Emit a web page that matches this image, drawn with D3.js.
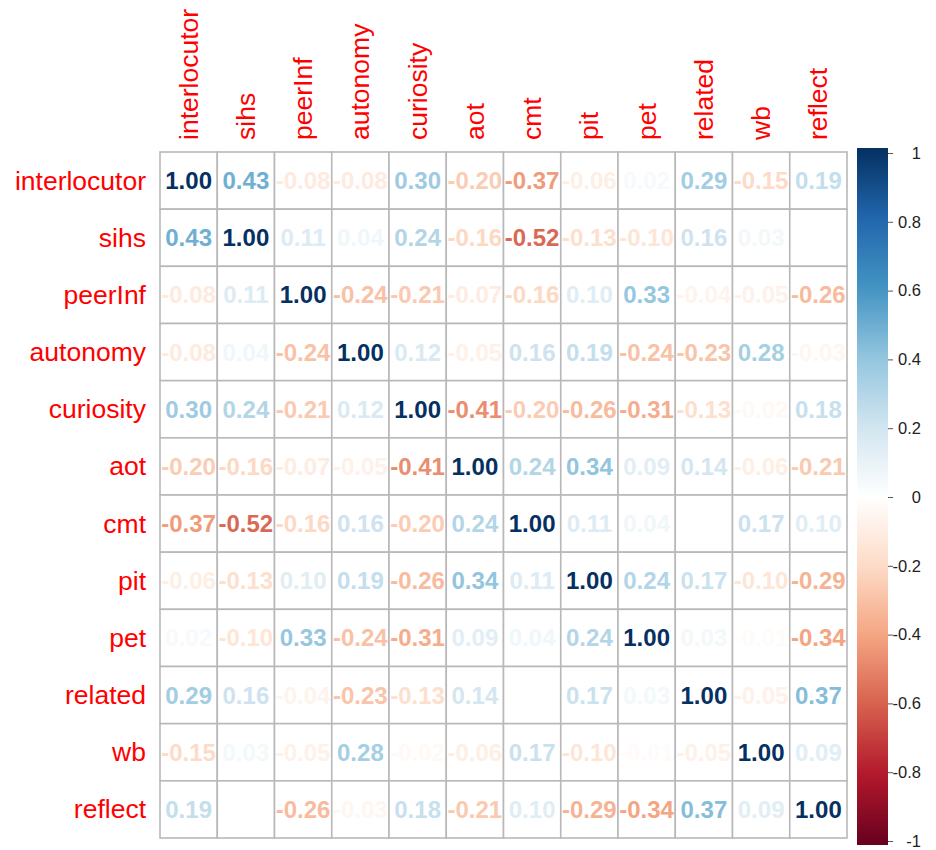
<!DOCTYPE html>
<html>
<head>
<meta charset="utf-8">
<script src="https://cdn.jsdelivr.net/npm/d3@7"></script>
<style>
  html, body { margin: 0; padding: 0; background: #fff; }
  svg { display: block; font-family: "Liberation Sans", Arial, Helvetica, sans-serif; }
</style>
</head>
<body>
<svg id="chart" width="936" height="850"></svg>
<script>
const variables = ["interlocutor","sihs","peerInf","autonomy","curiosity","aot","cmt","pit","pet","related","wb","reflect"];

const rowInterlocutor = [ 1.00, 0.43,-0.08,-0.08, 0.30,-0.20,-0.37,-0.06, 0.02, 0.29,-0.15, 0.19];
const rowSihs         = [ 0.43, 1.00, 0.11, 0.04, 0.24,-0.16,-0.52,-0.13,-0.10, 0.16, 0.03, 0.00];
const rowPeerInf      = [-0.08, 0.11, 1.00,-0.24,-0.21,-0.07,-0.16, 0.10, 0.33,-0.04,-0.05,-0.26];
const rowAutonomy     = [-0.08, 0.04,-0.24, 1.00, 0.12,-0.05, 0.16, 0.19,-0.24,-0.23, 0.28,-0.03];
const rowCuriosity    = [ 0.30, 0.24,-0.21, 0.12, 1.00,-0.41,-0.20,-0.26,-0.31,-0.13,-0.02, 0.18];
const rowAot          = [-0.20,-0.16,-0.07,-0.05,-0.41, 1.00, 0.24, 0.34, 0.09, 0.14,-0.06,-0.21];
const rowCmt          = [-0.37,-0.52,-0.16, 0.16,-0.20, 0.24, 1.00, 0.11, 0.04, 0.00, 0.17, 0.10];
const rowPit          = [-0.06,-0.13, 0.10, 0.19,-0.26, 0.34, 0.11, 1.00, 0.24, 0.17,-0.10,-0.29];
const rowPet          = [ 0.02,-0.10, 0.33,-0.24,-0.31, 0.09, 0.04, 0.24, 1.00, 0.03,-0.01,-0.34];
const rowRelated      = [ 0.29, 0.16,-0.04,-0.23,-0.13, 0.14, 0.00, 0.17, 0.03, 1.00,-0.05, 0.37];
const rowWb           = [-0.15, 0.03,-0.05, 0.28,-0.02,-0.06, 0.17,-0.10,-0.01,-0.05, 1.00, 0.09];
const rowReflect      = [ 0.19, 0.00,-0.26,-0.03, 0.18,-0.21, 0.10,-0.29,-0.34, 0.37, 0.09, 1.00];

const matrix = [rowInterlocutor,rowSihs,rowPeerInf,rowAutonomy,rowCuriosity,rowAot,rowCmt,rowPit,rowPet,rowRelated,rowWb,rowReflect];

const legendTicks = [-1,-0.8,-0.6,-0.4,-0.2,0,0.2,0.4,0.6,0.8,1];
const legendTickLabels = ["-1","-0.8","-0.6","-0.4","-0.2","0","0.2","0.4","0.6","0.8","1"];

const paletteColors = ["#67001F","#B2182B","#D6604D","#F4A582","#FDDBC7","#FFFFFF","#D1E5F0","#92C5DE","#4393C3","#2166AC","#053061"];
const paletteStops = [-1,-0.8,-0.6,-0.4,-0.2,0,0.2,0.4,0.6,0.8,1];

// ---- layout ----
const svg = d3.select("#chart");
const gridLeft = 160, gridRight = 847, gridTop = 152, gridBottom = 838;

const x = d3.scaleBand().domain(variables).range([gridLeft, gridRight]).padding(0);
const y = d3.scaleBand().domain(variables).range([gridTop, gridBottom]).padding(0);
const color = d3.scaleLinear().domain(paletteStops).range(paletteColors).interpolate(d3.interpolateRgb);
// slightly stronger tone for the printed numbers (as in the reference rendering)
const textColor = v => color(Math.sign(v) * Math.pow(Math.abs(v), 0.85));

const cells = [];
matrix.forEach((row, i) => row.forEach((v, j) => cells.push({r: variables[i], c: variables[j], v})));

// cells background + grid
const gCells = svg.append("g");
gCells.selectAll("rect").data(cells).join("rect")
  .attr("x", d => x(d.c)).attr("y", d => y(d.r))
  .attr("width", x.bandwidth()).attr("height", y.bandwidth())
  .attr("fill", "#fff").attr("stroke", "#b8b8b8").attr("stroke-width", 1.6);

// numbers
svg.append("g").selectAll("text").data(cells).join("text")
  .attr("x", d => x(d.c) + x.bandwidth() / 2)
  .attr("y", d => y(d.r) + y.bandwidth() / 2)
  .attr("text-anchor", "middle")
  .attr("dominant-baseline", "central")
  .attr("font-size", 24).attr("font-weight", "bold")
  .attr("fill", d => textColor(d.v))
  .text(d => d.v.toFixed(2));

// row labels
svg.append("g").selectAll("text").data(variables).join("text")
  .attr("x", gridLeft - 14)
  .attr("y", d => y(d) + y.bandwidth() / 2)
  .attr("text-anchor", "end").attr("dominant-baseline", "central")
  .attr("font-size", 26.5).attr("fill", "#ff0000")
  .text(d => d);

// column labels
svg.append("g").selectAll("text").data(variables).join("text")
  .attr("transform", d => `translate(${x(d) + x.bandwidth() / 2},${gridTop - 12}) rotate(-90)`)
  .attr("text-anchor", "start").attr("dominant-baseline", "central")
  .attr("font-size", 26.5).attr("fill", "#ff0000")
  .text(d => d);

// colour legend
const legX = 857, legW = 31;
const ly = d3.scaleLinear().domain([-1, 1]).range([841, 153]);
const defs = svg.append("defs");
const grad = defs.append("linearGradient").attr("id", "rdbu")
  .attr("x1", 0).attr("y1", 1).attr("x2", 0).attr("y2", 0);
grad.selectAll("stop").data(paletteStops).join("stop")
  .attr("offset", d => (d + 1) / 2)
  .attr("stop-color", d => color(d));
svg.append("rect").attr("x", legX).attr("y", 148)
  .attr("width", legW).attr("height", 697)
  .attr("fill", "url(#rdbu)");

const axis = d3.axisRight(ly).tickValues(legendTicks)
  .tickFormat((d, i) => legendTickLabels[i]).tickSize(5).tickPadding(4);
const ga = svg.append("g").attr("transform", `translate(${legX + legW},0)`).call(axis);
ga.select(".domain").remove();
ga.selectAll(".tick line").attr("stroke", "#555");
ga.selectAll(".tick text")
  .attr("font-size", 16.5).attr("fill", "#222")
  .attr("font-family", "'Liberation Sans', Arial, sans-serif")
  .attr("text-anchor", "end").attr("x", 33);
</script>
</body>
</html>
